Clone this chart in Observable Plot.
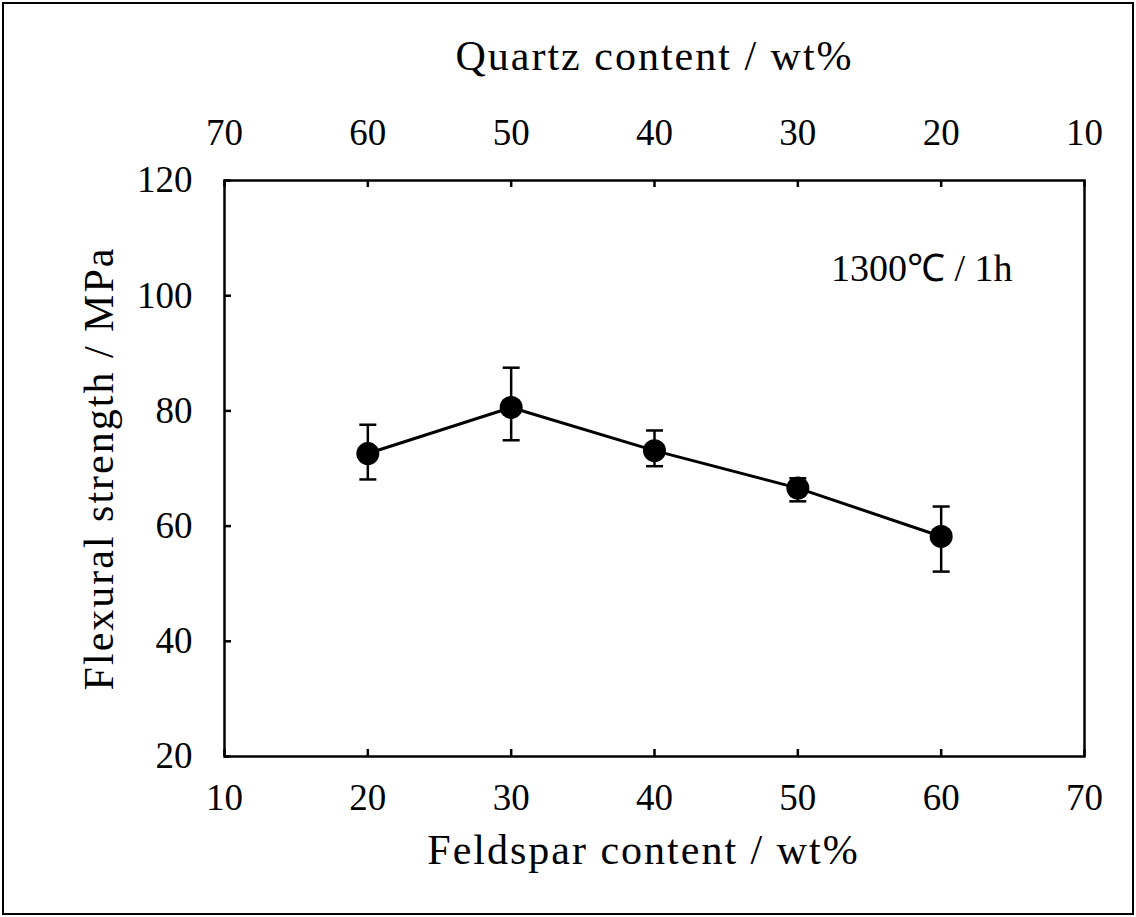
<!DOCTYPE html>
<html>
<head>
<meta charset="utf-8">
<script src="https://cdn.jsdelivr.net/npm/d3@7"></script>
<script src="https://cdn.jsdelivr.net/npm/@observablehq/plot@0.6"></script>
<style>
  html, body { margin: 0; padding: 0; background: #fff; }
  #chart svg { display: block; outline: 2px solid #000; outline-offset: -4px; }
</style>
</head>
<body>
<div id="chart"></div>
<script>
// Data
const feldspar = [20, 30, 40, 50, 60];
const strength = [72.6, 80.6, 73.1, 66.6, 58.2];
const errLow   = [68.1, 74.9, 70.4, 64.3, 52.1];
const errHigh  = [77.6, 87.5, 76.6, 68.3, 63.4];
const xTicks = [10, 20, 30, 40, 50, 60, 70];
const quartzLabels = [70, 60, 50, 40, 30, 20, 10];
const yTicks = [20, 40, 60, 80, 100, 120];
const xTitle = "Feldspar content / wt%";
const x2Title = "Quartz content / wt%";
const yTitle = "Flexural strength / MPa";
const annotation = "1300\u2103 / 1h";

const data = feldspar.map((x, i) => ({x, y: strength[i], lo: errLow[i], hi: errHigh[i]}));

const W = 1136, H = 917;
const mL = 224, mR = 52, mT = 180, mB = 161;
const innerW = W - mL - mR, innerH = H - mT - mB;
const tickLen = 7;
const font = "'Liberation Serif', 'Times New Roman', serif";

const capSymbol = {
  draw(context, size) {
    const w = Math.sqrt(size / Math.PI);
    context.moveTo(-w, 0);
    context.lineTo(w, 0);
  }
};

const chart = Plot.plot({
  width: W, height: H,
  marginLeft: mL, marginRight: mR, marginTop: mT, marginBottom: mB,
  style: {fontFamily: font, fontSize: "37px", color: "#000", background: "#fff"},
  x: {domain: [10, 70]},
  y: {domain: [20, 120]},
  marks: [
    Plot.axisX(xTicks, {anchor: "bottom", tickSize: 0, tickPadding: 27, fontSize: 37,
      label: xTitle, labelAnchor: "center", labelOffset: 107, labelArrow: "none"}),
    Plot.axisX(xTicks, {anchor: "top", tickSize: 0, tickPadding: 36, fontSize: 37,
      tickFormat: (d, i) => quartzLabels[i],
      label: x2Title, labelAnchor: "center", labelOffset: 140, labelArrow: "none"}),
    Plot.axisY(yTicks, {anchor: "left", tickSize: 0, tickPadding: 32, fontSize: 37,
      label: yTitle, labelAnchor: "center", labelOffset: 141, labelArrow: "none"}),
    Plot.tickX(xTicks, {x: d => d, insetTop: innerH - tickLen, stroke: "#000", strokeWidth: 2.5}),
    Plot.tickX(xTicks, {x: d => d, insetBottom: innerH - tickLen, stroke: "#000", strokeWidth: 2.5}),
    Plot.tickY(yTicks, {y: d => d, insetRight: innerW - tickLen, stroke: "#000", strokeWidth: 2.5}),
    Plot.frame({stroke: "#000", strokeWidth: 2.5}),
    Plot.line(data, {x: "x", y: "y", stroke: "#000", strokeWidth: 3}),
    Plot.ruleX(data, {x: "x", y1: "lo", y2: "hi", stroke: "#000", strokeWidth: 2.5}),
    Plot.dot(data, {x: "x", y: "hi", symbol: capSymbol, r: 8.5, stroke: "#000", fill: "none", strokeWidth: 2.5}),
    Plot.dot(data, {x: "x", y: "lo", symbol: capSymbol, r: 8.5, stroke: "#000", fill: "none", strokeWidth: 2.5}),
    Plot.dot(data, {x: "x", y: "y", r: 11.5, fill: "#000", stroke: "none"}),
    Plot.text([annotation], {text: d => d, frameAnchor: "top-right", textAnchor: "end",
      dx: -72, dy: 74, fontSize: 38, fill: "#000"})
  ]
});
// axis titles: slightly larger and wider, like the reference typeface
const titles = new Set([xTitle, x2Title, yTitle]);
d3.select(chart).selectAll("text")
  .filter(function() { return titles.has(this.textContent.trim()); })
  .attr("font-size", "42px")
  .attr("letter-spacing", "2px");
d3.select(chart).selectAll("text")
  .filter(function() { return this.textContent.trim() === xTitle; })
  .attr("dx", -11);
document.getElementById("chart").appendChild(chart);
</script>
</body>
</html>
